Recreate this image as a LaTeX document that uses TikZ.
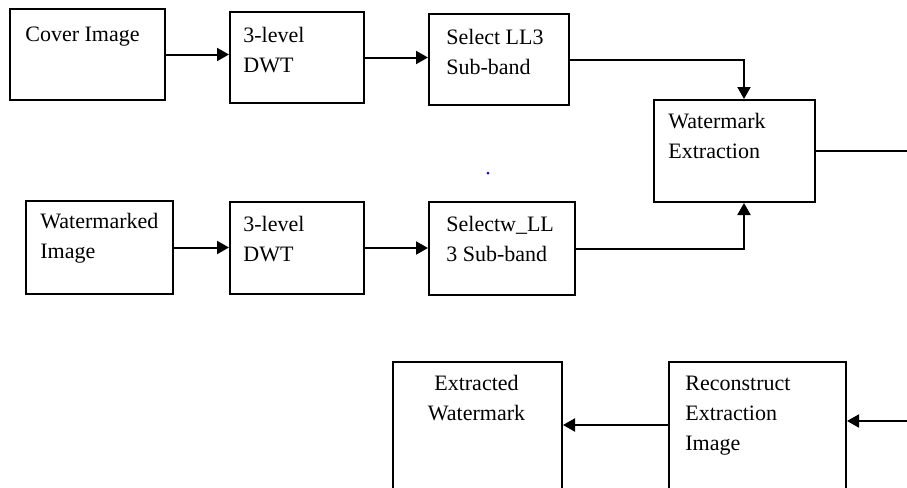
\documentclass[tikz,border=0pt]{standalone}
\usepackage{fontspec}
\setmainfont{Liberation Serif}
\usetikzlibrary{arrows.meta,calc}
\begin{document}
\begin{tikzpicture}[x=0.5pt,y=-0.5pt,
  blk/.style={draw,line width=1pt,anchor=north west,inner sep=0pt},
  txt/.style={anchor=north west,inner sep=0pt,align=left,font=\fontsize{11}{15}\selectfont},
  arr/.style={line width=1pt,-{Triangle[length=6pt,width=6.5pt]}}]
\useasboundingbox (0,0) rectangle (907,488);

\node[blk,minimum width=77.5pt,minimum height=45.5pt] (cover) at (9,8) {};
\node[txt] (coverT) at (25,27) {Cover Image};
\node[blk,minimum width=67pt,minimum height=45.5pt] (dwtA) at (229,11) {};
\node[txt] (dwtAT) at (243,27) {3-level\\DWT};
\node[blk,minimum width=70pt,minimum height=45.5pt] (selA) at (428,13) {};
\node[txt] (selAT) at (446,29) {Select LL3\\Sub-band};

\node[blk,minimum width=80.5pt,minimum height=51pt] (wmx) at (653,99) {};
\node[txt] (wmxT) at (668,113) {Watermark\\Extraction};

\node[blk,minimum width=73.5pt,minimum height=46.5pt] (wmd) at (25,200) {};
\node[txt] (wmdT) at (40,213) {Watermarked\\Image};
\node[blk,minimum width=67pt,minimum height=46pt] (dwtB) at (229,201) {};
\node[txt] (dwtBT) at (243,216) {3-level\\DWT};
\node[blk,minimum width=73pt,minimum height=46.5pt] (selB) at (428,201) {};
\node[txt] (selBT) at (446,216) {Selectw\_LL\\3 Sub-band};

\node[blk,minimum width=84.5pt,minimum height=70pt] (extw) at (392,361) {};
\node[txt,anchor=north,align=center] (extwT) at (476.5,375) {Extracted\\Watermark};
\node[blk,minimum width=88.5pt,minimum height=70pt] (rec) at (668,361) {};
\node[txt] (recT) at (685,376) {Reconstruct\\Extraction\\Image};

\coordinate (edge) at (912,0);
\fill[blue] (488,173) circle (1.5);

\draw[arr] (cover.east) -- (cover.east -| dwtA.west);
\draw[arr] (dwtA.east) -- (dwtA.east -| selA.west);
\draw[arr] (selA.east) -| ($(wmx.north)+(9.5,0)$);
\draw[arr] (wmd.east) -- (wmd.east -| dwtB.west);
\draw[arr] (dwtB.east) -- (dwtB.east -| selB.west);
\draw[arr] (selB.east) -| ($(wmx.south)+(9.5,0)$);
\draw[arr] (wmx.east) -- (wmx.east -| edge) |- ($(rec.north east)+(0,60)$);
\draw[arr] ($(rec.north west)+(0,64)$) -- ($(extw.north east)+(0,64)$);
\end{tikzpicture}
\end{document}
